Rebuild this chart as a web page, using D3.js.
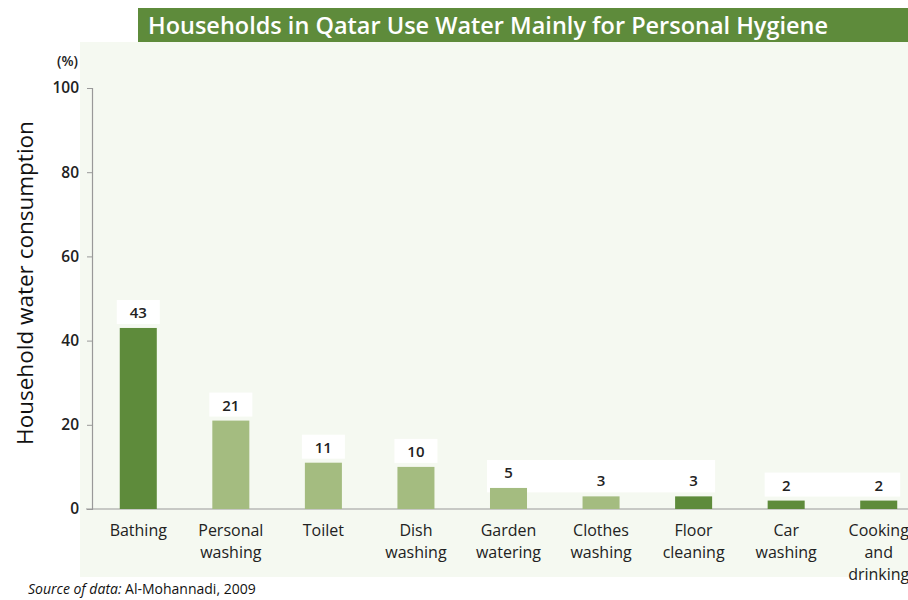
<!DOCTYPE html>
<html>
<head>
<meta charset="utf-8">
<script src="https://cdn.jsdelivr.net/npm/d3@7"></script>
<style>
  body { margin: 0; background: #ffffff; }
  svg { display: block; }
  text { font-family: "Open Sans", "Noto Sans", sans-serif; }
</style>
</head>
<body>
<svg id="chart" width="908" height="600"></svg>
<script>
const title = "Households in Qatar Use Water Mainly for Personal Hygiene";
const categories = [
  ["Bathing"],
  ["Personal", "washing"],
  ["Toilet"],
  ["Dish", "washing"],
  ["Garden", "watering"],
  ["Clothes", "washing"],
  ["Floor", "cleaning"],
  ["Car", "washing"],
  ["Cooking", "and", "drinking"]
];
const values = [43, 21, 11, 10, 5, 3, 3, 2, 2];
const shade = ["dark", "light", "light", "light", "light", "light", "dark", "dark", "dark"];
const yTicks = [0, 20, 40, 60, 80, 100];
const yLabel = "Household water consumption";
const unitLabel = "(%)";
const sourceItalic = "Source of data:";
const sourceText = " Al-Mohannadi, 2009";

const colors = { dark: "#5e8b3b", light: "#a4bc80" };

const svg = d3.select("#chart");

// background panel
svg.append("rect").attr("x", 80).attr("y", 42).attr("width", 828).attr("height", 535)
  .attr("fill", "#f5f9f1");

// title banner
svg.append("rect").attr("x", 138).attr("y", 8).attr("width", 770).attr("height", 34)
  .attr("fill", "#5e8b3b");
svg.append("text").attr("x", 148).attr("y", 34)
  .attr("fill", "#ffffff").attr("font-size", 24).attr("font-weight", 600)
  .attr("textLength", 680).attr("lengthAdjust", "spacingAndGlyphs")
  .text(title);

const x = d3.scaleBand().domain(d3.range(categories.length))
  .range([92, 925]).paddingInner(0.6).paddingOuter(0.3);
const y = d3.scaleLinear().domain([0, 100]).range([509, 88]);

// y axis
const yAxis = d3.axisLeft(y).tickValues(yTicks).tickSize(5).tickPadding(8);
const gy = svg.append("g").attr("transform", "translate(92,0)").call(yAxis);
gy.select(".domain").attr("stroke", "#999").attr("stroke-width", 1.2);
gy.selectAll(".tick line").attr("stroke", "#999");
gy.selectAll(".tick text").attr("font-size", 15.5).attr("font-weight", 600)
  .attr("fill", "#222").attr("font-family", "'Open Sans', sans-serif");

// x axis line
svg.append("line").attr("x1", 86).attr("x2", 908).attr("y1", y(0)).attr("y2", y(0))
  .attr("stroke", "#999").attr("stroke-width", 1.2);

// white label boxes
const boxes = [
  [0, 0], [1, 1], [2, 2], [3, 3], [4, 6], [7, 8]
];
boxes.forEach(([a, b]) => {
  const top = d3.min(d3.range(a, b + 1), i => y(values[i])) - 28;
  const bottom = d3.max(d3.range(a, b + 1), i => y(values[i])) - 4;
  svg.append("rect")
    .attr("x", x(a) - 3).attr("width", x(b) + x.bandwidth() + 3 - (x(a) - 3))
    .attr("y", top).attr("height", bottom - top)
    .attr("fill", "#ffffff");
});

// bars
svg.append("g").selectAll("rect").data(values).join("rect")
  .attr("x", (d, i) => x(i)).attr("width", x.bandwidth())
  .attr("y", d => y(d)).attr("height", d => y(0) - y(d))
  .attr("fill", (d, i) => colors[shade[i]]);

// value labels
svg.append("g").selectAll("text").data(values).join("text")
  .attr("x", (d, i) => x(i) + x.bandwidth() / 2)
  .attr("y", d => y(d) - 10)
  .attr("text-anchor", "middle").attr("font-size", 15).attr("font-weight", 600)
  .attr("fill", "#222").text(d => d);

// category labels
const cat = svg.append("g");
categories.forEach((lines, i) => {
  const t = cat.append("text")
    .attr("x", x(i) + x.bandwidth() / 2).attr("y", 536)
    .attr("text-anchor", "middle").attr("font-size", 16).attr("font-weight", 500)
    .attr("fill", "#222");
  lines.forEach((ln, k) => {
    t.append("tspan").attr("x", x(i) + x.bandwidth() / 2)
      .attr("dy", k === 0 ? 0 : 22).text(ln);
  });
});

// y label
svg.append("text")
  .attr("transform", `translate(33,283) rotate(-90)`)
  .attr("text-anchor", "middle").attr("font-size", 22.5).attr("fill", "#111")
  .text(yLabel);

// unit
svg.append("text").attr("x", 78).attr("y", 66).attr("text-anchor", "end")
  .attr("font-size", 14).attr("font-weight", 600).attr("fill", "#222").text(unitLabel);

// source
const src = svg.append("text").attr("x", 28).attr("y", 594).attr("font-size", 14).attr("fill", "#111");
src.append("tspan").attr("font-style", "italic").text(sourceItalic);
src.append("tspan").text(sourceText);
</script>
</body>
</html>
